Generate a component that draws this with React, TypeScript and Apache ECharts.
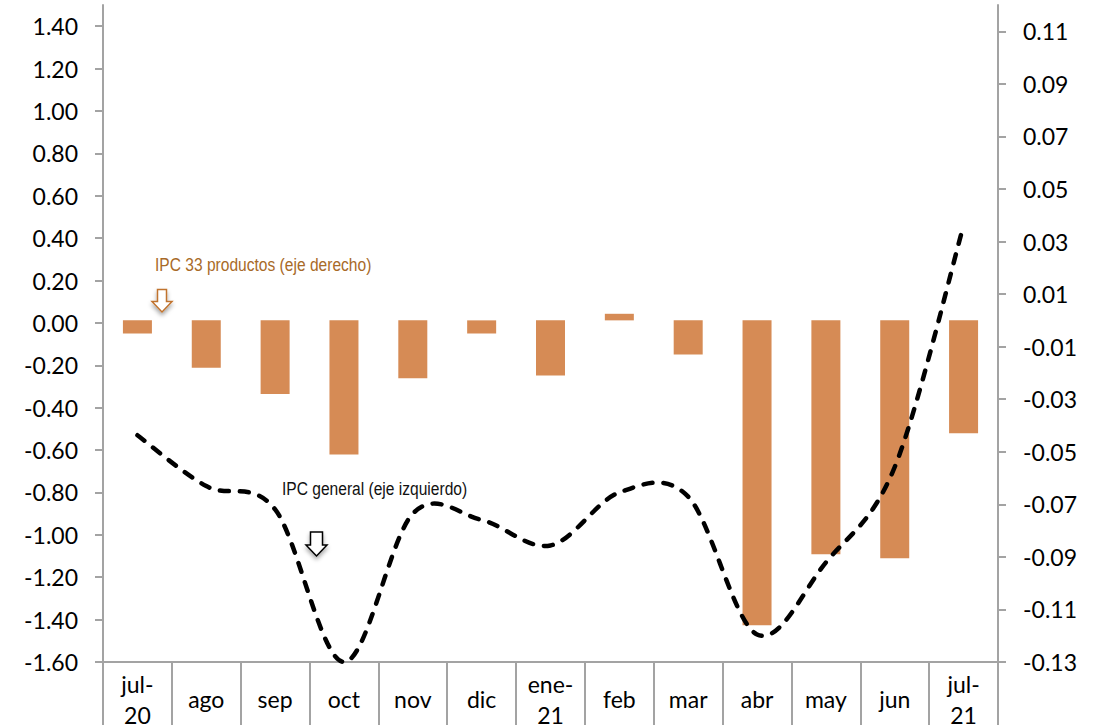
import React, { useEffect, useRef } from "react";
import * as echarts from "echarts";

const categories = ["jul-\n20", "ago", "sep", "oct", "nov", "dic", "ene-\n21", "feb", "mar", "abr", "may", "jun", "jul-\n21"];
// IPC 33 productos (eje derecho)
const ipc33 = [-0.005, -0.018, -0.028, -0.051, -0.022, -0.005, -0.021, 0.0025, -0.013, -0.116, -0.089, -0.0905, -0.043];
// IPC general (eje izquierdo)
const ipcGeneral = [-0.53, -0.77, -0.88, -1.6, -0.9, -0.93, -1.05, -0.8, -0.82, -1.47, -1.13, -0.68, 0.46];
const leftTicks = [-1.6, -1.4, -1.2, -1.0, -0.8, -0.6, -0.4, -0.2, 0, 0.2, 0.4, 0.6, 0.8, 1.0, 1.2, 1.4];
const rightTicks = [-0.13, -0.11, -0.09, -0.07, -0.05, -0.03, -0.01, 0.01, 0.03, 0.05, 0.07, 0.09, 0.11];

const AXIS_GREY = "#A3A3A3";
const LABEL_FONT = "Lato";

export default function App() {
  const ref = useRef<HTMLDivElement>(null);
  useEffect(() => {
    if (!ref.current) return;
    const chart = echarts.init(ref.current, null, { renderer: "svg" });
    const fmt = (v: number) => (Math.abs(v) < 1e-9 ? 0 : v).toFixed(2);
    chart.setOption({
      animation: false,
      backgroundColor: "#ffffff",
      grid: { left: 103, right: 101, top: 5, bottom: 63, containLabel: false, outerBoundsMode: "none" },
      xAxis: {
        type: "category",
        data: categories,
        boundaryGap: true,
        axisLine: { onZero: false, lineStyle: { color: AXIS_GREY, width: 2 } },
        axisTick: { show: true, interval: 0, length: 66, alignWithLabel: false, lineStyle: { color: AXIS_GREY, width: 2 } },
        axisLabel: {
          interval: 0,
          color: "#000",
          fontFamily: LABEL_FONT,
          fontSize: 23,
          lineHeight: 31,
          margin: 37,
          verticalAlign: "middle",
        },
        splitLine: { show: false },
      },
      yAxis: [
        {
          type: "value",
          position: "left",
          min: -1.6,
          max: 1.5,
          interval: 0.2,
          axisLine: { show: true, lineStyle: { color: AXIS_GREY, width: 2 } },
          axisTick: { show: true, length: 8, customValues: leftTicks, lineStyle: { color: AXIS_GREY, width: 2 } },
          axisLabel: { customValues: leftTicks, formatter: fmt, color: "#000", fontFamily: LABEL_FONT, fontSize: 23, margin: 25 },
          splitLine: { show: false },
        },
        {
          type: "value",
          position: "right",
          min: -0.13,
          max: 0.12,
          axisLine: { show: true, lineStyle: { color: AXIS_GREY, width: 2 } },
          axisTick: { show: true, length: 8, customValues: rightTicks, lineStyle: { color: AXIS_GREY, width: 2 } },
          axisLabel: { customValues: rightTicks, formatter: fmt, color: "#000", fontFamily: LABEL_FONT, fontSize: 23, margin: 25 },
          splitLine: { show: false },
        },
      ],
      series: [
        {
          name: "IPC 33 productos (eje derecho)",
          type: "bar",
          yAxisIndex: 1,
          data: ipc33,
          barWidth: 29,
          itemStyle: { color: "#D68B55" },
        },
        {
          name: "IPC general (eje izquierdo)",
          type: "custom",
          yAxisIndex: 0,
          data: ipcGeneral.map((v, i) => [i, v]),
          clip: false,
          silent: true,
          z: 3,
          renderItem: (params: any, api: any) => {
            if (params.dataIndex !== 0) return null;
            const pts: number[][] = ipcGeneral.map((v, i) => api.coord([i, v]));
            let d = `M${pts[0][0]},${pts[0][1]}`;
            for (let i = 0; i < pts.length - 1; i++) {
              const p0 = pts[i - 1] || pts[i];
              const p1 = pts[i];
              const p2 = pts[i + 1];
              const p3 = pts[i + 2] || p2;
              const c1x = p1[0] + (p2[0] - p0[0]) / 6;
              const c1y = p1[1] + (p2[1] - p0[1]) / 6;
              const c2x = p2[0] - (p3[0] - p1[0]) / 6;
              const c2y = p2[1] - (p3[1] - p1[1]) / 6;
              d += ` C${c1x},${c1y} ${c2x},${c2y} ${p2[0]},${p2[1]}`;
            }
            return {
              type: "path",
              shape: { pathData: d },
              style: { fill: "none", stroke: "#000", lineWidth: 4.5, lineDash: [9, 11], lineCap: "round" },
            };
          },
        },
      ],
      graphic: [
        {
          type: "text",
          x: 155,
          y: 264,
          scaleX: 0.82,
          style: { text: "IPC 33 productos (eje derecho)", fill: "#A86A28", fontFamily: "Liberation Sans", fontSize: 19, verticalAlign: "middle" },
        },
        {
          type: "text",
          x: 282,
          y: 488,
          scaleX: 0.82,
          style: { text: "IPC general (eje izquierdo)", fill: "#111", fontFamily: "Liberation Sans", fontSize: 19, verticalAlign: "middle" },
        },
        {
          type: "polygon",
          shape: {
            points: [
              [157.5, 289.5], [166.5, 289.5], [166.5, 301.5], [172, 301.5], [162, 312], [152, 301.5], [157.5, 301.5],
            ],
          },
          style: { fill: "#fff", stroke: "#C0732F", lineWidth: 1.5, shadowBlur: 4, shadowOffsetY: 3, shadowColor: "rgba(0,0,0,0.35)" },
        },
        {
          type: "polygon",
          shape: {
            points: [
              [310.5, 532], [322.5, 532], [322.5, 545], [327, 545], [316.5, 556], [306, 545], [310.5, 545],
            ],
          },
          style: { fill: "#fff", stroke: "#000", lineWidth: 1.5, shadowBlur: 4, shadowOffsetY: 3, shadowColor: "rgba(0,0,0,0.35)" },
        },
      ],
    });
    return () => chart.dispose();
  }, []);
  return (
    <div
      ref={ref}
      style={{ position: "fixed", left: 0, top: 0, width: 1099, height: 725, background: "#fff" }}
    />
  );
}
